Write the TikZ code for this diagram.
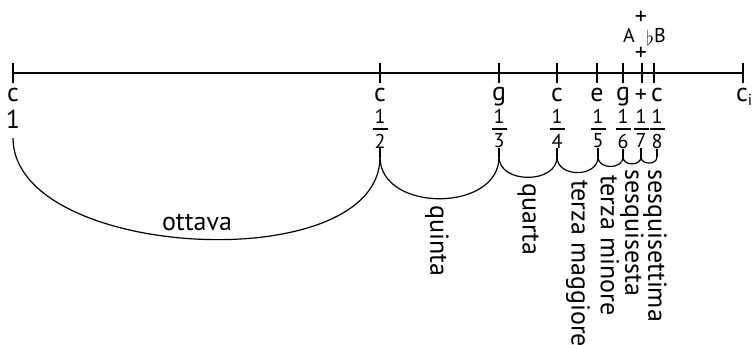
\documentclass[tikz,border=0pt]{standalone}
\usepackage{fontspec}
\setmainfont{PT Sans}
\newcommand\fr[1]{\vbox{\hbox to 15pt{\hss 1\hss}\kern5pt\hrule height 1.4pt\kern4pt\hbox to 15pt{\hss #1\hss}}}
\tikzset{
  lbl/.style={inner sep=0pt, anchor=base, font=\fontsize{26}{28}\selectfont},
  sml/.style={inner sep=0pt, anchor=base, font=\fontsize{20}{22}\selectfont},
  pls/.style={inner sep=0pt, anchor=center, font=\fontsize{24}{26}\selectfont},
  frc/.style={inner sep=0pt, anchor=north, font=\fontsize{20}{22}\selectfont},
  vlbl/.style={inner sep=0pt, anchor=west, rotate=-90, font=\fontsize{26}{28}\selectfont},
  brc/.style={line width=1.2pt, out=-90, in=-90},
  axtick/.style={line width=2pt},
}
\begin{document}
\begin{tikzpicture}[x=1pt,y=-1pt]
\useasboundingbox (0,0) rectangle (752,345);
% axis
\coordinate (a0) at (13,73);
\coordinate (a9) at (743,73);
\draw[axtick] (a0) -- (a9);
\foreach \x in {13,380,499,557,597,623,642,654,743}{
  \draw[axtick] (\x,63) -- (\x,83);
}
% letters
\node[lbl] (l1) at (13,101) {c};
\node[lbl] (l2) at (380,101) {c};
\node[lbl] (l3) at (499,100) {g};
\node[lbl] (l4) at (557,101) {c};
\node[lbl] (l5) at (597,101) {e};
\node[lbl] (l6) at (623,100) {g};
\node[pls] (l7) at (641,96) {+};
\node[lbl] (l8) at (657,101) {c};
\node[lbl,anchor=base west] (l9) at (736,101) {c\raisebox{-4pt}{\fontsize{16}{18}\selectfont i}};
% above
\node[pls] (p1) at (641,54) {+};
\node[sml] (pA) at (629,43) {A};
\node[sml] (pB) at (656,43) {\raisebox{-3pt}{$\flat$}B};
\node[pls] (p2) at (641,18) {+};
% fractions
\node[lbl] (f1) at (13,128) {1};
\node[frc] (f2) at (380,109) {\fr{2}};
\node[frc] (f3) at (499,109) {\fr{3}};
\node[frc] (f4) at (557,109) {\fr{4}};
\node[frc] (f5) at (598,109) {\fr{5}};
\node[frc] (f6) at (623,109) {\fr{6}};
\node[frc] (f7) at (641,109) {\fr{7}};
\node[frc] (f8) at (657,109) {\fr{8}};
% brace joints
\coordinate (b1) at (13,138);
\coordinate (b2) at (380,157);
\coordinate (b3) at (499,157);
\coordinate (b4) at (557,157);
\coordinate (b5) at (598,157);
\coordinate (b6) at (623,157);
\coordinate (b7) at (641,157);
\coordinate (b8) at (657,157);
\draw[line width=1.2pt] (f2.south) -- (b2) (f3.south) -- (b3) (f4.south) -- (b4) (f5.south) -- (b5) (f6.south) -- (b6) (f7.south) -- (b7) (f8.south) -- (b8);
\draw[brc, looseness=0.85] (b1) to (b2);
\draw[brc, looseness=1.2] (b2) to (b3);
\draw[brc, looseness=1.2] (b3) to (b4);
\draw[brc, looseness=1.3] (b4) to (b5);
\draw[brc, looseness=1.3] (b5) to (b6);
\draw[brc, looseness=1.3] (b6) to (b7);
\draw[brc, looseness=1.3] (b7) to (b8);
% names
\node[lbl] (n1) at (197,230) {ottava};
\node[vlbl] (n2) at (437,205) {quinta};
\node[vlbl] (n3) at (528,183) {quarta};
\node[vlbl] (n4) at (578,180) {terza maggiore};
\node[vlbl] (n5) at (610,175) {terza minore};
\node[vlbl] (n6) at (632,169) {sesquisesta};
\node[vlbl] (n7) at (655,169) {sesquisettima};
\end{tikzpicture}
\end{document}
